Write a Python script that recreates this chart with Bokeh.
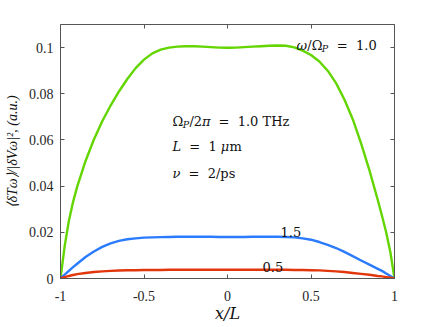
from bokeh.plotting import figure
from bokeh.models import Range1d, LinearAxis, FixedTicker, Label
from bokeh.embed import file_html
from bokeh.resources import INLINE

# ---------------- data ----------------
x_over_L = [-1, -0.975, -0.95, -0.925, -0.9, -0.85, -0.8, -0.75, -0.7, -0.65, -0.6,
            -0.55, -0.5, -0.45, -0.4, -0.35, -0.3, -0.25, -0.2, -0.15, -0.1, -0.05, 0,
            0.05, 0.1, 0.15, 0.2, 0.25, 0.3, 0.35, 0.4, 0.45, 0.5, 0.55, 0.6, 0.65,
            0.7, 0.75, 0.8, 0.85, 0.9, 0.925, 0.95, 0.975, 1]
dT_w10 = [0, 0.014, 0.0249, 0.0331, 0.0398, 0.0509, 0.0602, 0.0681, 0.0749, 0.081, 0.0864,
          0.0911, 0.0948, 0.0975, 0.0991, 0.1, 0.1004, 0.1006, 0.1006, 0.1004, 0.1002, 0.1, 0.0999,
          0.1, 0.1002, 0.1004, 0.1006, 0.1008, 0.1009, 0.1008, 0.1001, 0.0987, 0.0968, 0.094, 0.09, 0.0846,
          0.0775, 0.069, 0.0585, 0.0468, 0.034, 0.0272, 0.02, 0.0115, 0]
dT_w15 = [0, 0.0017, 0.0033, 0.0049, 0.0064, 0.0093, 0.0117, 0.0137, 0.0152, 0.0163, 0.017,
          0.0174, 0.0177, 0.0178, 0.0179, 0.018, 0.0181, 0.0181, 0.0181, 0.0181, 0.0181, 0.018, 0.018,
          0.018, 0.018, 0.0181, 0.0181, 0.0181, 0.0181, 0.018, 0.0178, 0.0174, 0.0168, 0.0158, 0.0146, 0.0132,
          0.0115, 0.0097, 0.0078, 0.006, 0.0042, 0.0033, 0.0022, 0.0011, 0]
dT_w05 = [0, 0.0006, 0.0011, 0.0015, 0.0019, 0.0024, 0.0028, 0.0031, 0.0033, 0.00345, 0.00355,
          0.0036, 0.00365, 0.0037, 0.0037, 0.0038, 0.0038, 0.0038, 0.0038, 0.0038, 0.0038, 0.0038, 0.0038,
          0.0038, 0.0038, 0.0038, 0.0038, 0.0038, 0.0038, 0.0038, 0.0037, 0.0037, 0.0036, 0.0035, 0.0033, 0.0031,
          0.0028, 0.0024, 0.002, 0.0016, 0.0011, 0.0009, 0.0006, 0.0003, 0]

x_ticks = [-1, -0.5, 0, 0.5, 1]
x_tick_labels = ["-1", "-0.5", "0", "0.5", "1"]
y_ticks = [0, 0.02, 0.04, 0.06, 0.08, 0.1]
y_tick_labels = ["0", "0.02", "0.04", "0.06", "0.08", "0.1"]

GREEN = "#63d500"
BLUE = "#2b7bff"
RED = "#e2360d"

# ---------------- figure ----------------
W_, H_ = 436, 327
ML, MR, MT, MB = 60, 42, 24, 49

p = figure(width=W_, height=H_, x_range=Range1d(-1, 1), y_range=Range1d(0, 0.11),
           output_backend="svg", toolbar_location=None,
           min_border_left=ML, min_border_right=MR, min_border_top=MT, min_border_bottom=MB)
p.outline_line_color = None
p.xgrid.visible = False
p.ygrid.visible = False
p.background_fill_color = "white"
p.border_fill_color = "white"

AX = "#555555"
TICK_FONT = "'Liberation Serif', 'Times New Roman', serif"


def style_axis(ax, ticks, labels, show_labels):
    ax.ticker = FixedTicker(ticks=ticks)
    ax.major_label_overrides = {t: l for t, l in zip(ticks, labels)}
    ax.major_tick_in = 4
    ax.major_tick_out = 0
    ax.minor_tick_in = 0
    ax.minor_tick_out = 0
    ax.axis_line_color = AX
    ax.major_tick_line_color = AX
    ax.axis_line_width = 1
    ax.major_label_text_font = TICK_FONT
    ax.major_label_text_color = "#262626"
    ax.major_label_text_font_size = "14px"
    if not show_labels:
        ax.major_label_text_color = None
        ax.major_label_text_font_size = "1px"
        ax.major_label_standoff = 0


xa = p.xaxis[0]
style_axis(xa, x_ticks, x_tick_labels, True)
xa.major_label_standoff = 12
xa.axis_label = "x/L"
xa.axis_label_text_font = "DejaVu Serif"
xa.axis_label_text_font_style = "italic"
xa.axis_label_text_font_size = "16px"
xa.axis_label_text_color = "#111111"
xa.axis_label_standoff = 0

ya = p.yaxis[0]
style_axis(ya, y_ticks, y_tick_labels, True)
ya.major_label_standoff = 7
ya.axis_label = "⟨δTω⟩/|δVω|², (a.u.)"
ya.axis_label_text_font = "'Liberation Serif', 'Times New Roman', serif"
ya.axis_label_text_font_style = "italic"
ya.axis_label_text_font_size = "14px"
ya.axis_label_text_color = "#111111"
ya.axis_label_standoff = 6

top_ax = LinearAxis()
style_axis(top_ax, x_ticks, x_tick_labels, False)
p.add_layout(top_ax, "above")
right_ax = LinearAxis()
style_axis(right_ax, y_ticks, y_tick_labels, False)
p.add_layout(right_ax, "right")

# ---------------- curves ----------------
for ys, c in ((dT_w10, GREEN), (dT_w15, BLUE), (dT_w05, RED)):
    p.line(x_over_L, ys, line_color=c, line_width=2.4, line_join="round", line_cap="round")

# ---------------- text helpers ----------------
NB = "\u00a0"
FW = {NB: 0.318, '.': 0.318, ',': 0.318, '=': 0.838, '/': 0.337, '|': 0.337,
      '(': 0.39, ')': 0.39, 'a': 0.596, 'u': 0.644, 'm': 0.948, 'p': 0.64, 's': 0.513,
      'T': 0.672, 'H': 0.872, 'z': 0.525, 'Ω': 0.784, 'π': 0.63, 'μ': 0.66,
      'L': 0.655, 'P': 0.706, 'ω': 0.83, 'ν': 0.6}
for d in "0123456789":
    FW[d] = 0.636


def text_run(pieces, fx, fy, font="DejaVu Serif"):
    # fx, fy: page pixel position of the run's baseline start (from top-left)
    off = 0.0
    for txt, style, size, shift in pieces:
        px, py = fx + off, fy - shift
        p.add_layout(Label(x=px - ML, y=(H_ - MB) - py, x_units="screen", y_units="screen",
                           text=txt, text_font=font, text_font_style=style,
                           text_font_size=f"{size}px", text_color="#111111",
                           text_baseline="alphabetic", text_align="left"))
        off += sum(FW.get(ch, 0.6) for ch in txt) * size


# parameter block
A = 13
EQ = NB + NB + "=" + NB + NB
text_run([("Ω", "normal", A, 0), ("P", "italic", 9.5, -3), ("/2", "normal", A, 0),
          ("π", "italic", A, 0), (EQ + "1.0" + NB + "THz", "normal", A, 0)], 172, 121)
text_run([("L", "italic", A, 0), (EQ + "1" + NB, "normal", A, 0), ("μ", "italic", A, 0),
          ("m", "normal", A, 0)], 172, 146)
text_run([("ν", "italic", A, 0), (EQ + "2/ps", "normal", A, 0)], 172, 173)

# curve labels
text_run([("ω", "italic", A, 0), ("/Ω", "normal", A, 0), ("P", "italic", 9.5, -3),
          (EQ + "1.0", "normal", A, 0)], 296, 45)
text_run([("1.5", "normal", A, 0)], 280, 231)
text_run([("0.5", "normal", A, 0)], 262, 266)

open("out.html", "w").write(file_html(p, INLINE))
